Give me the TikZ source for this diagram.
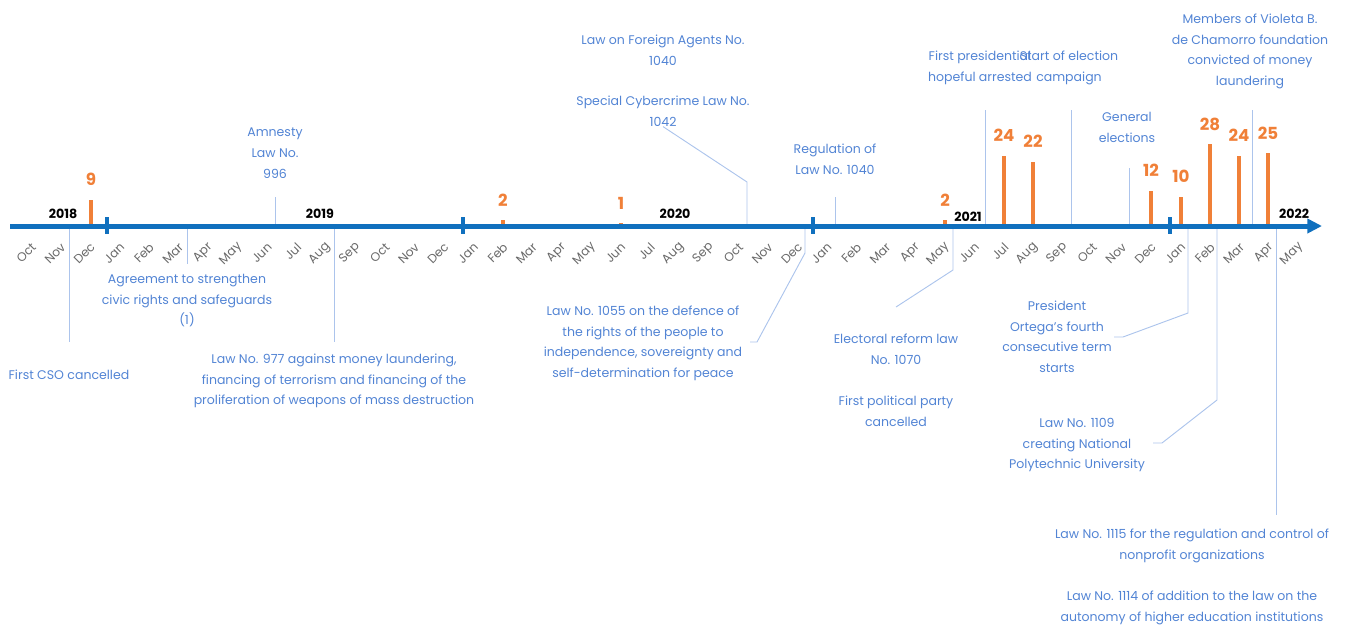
\documentclass[tikz,border=0pt]{standalone}
\usepackage{fontspec}
\setmainfont{Poppins}
\usepackage{tikz}
\usetikzlibrary{arrows.meta}

\definecolor{axisblue}{RGB}{16,112,190}
\definecolor{barorange}{RGB}{240,128,56}
\definecolor{evtblue}{RGB}{82,132,212}
\definecolor{leadblue}{RGB}{172,196,236}
\definecolor{mongray}{RGB}{105,105,105}

\newcommand{\evtfont}{\fontsize{9.4}{15.4}\selectfont}
\newcommand{\cntfont}{\fontsize{12.5}{14}\selectfont\bfseries}
\newcommand{\yrfont}{\fontsize{9.5}{11}\selectfont\bfseries}
\newcommand{\monfont}{\fontsize{9.2}{11}\selectfont}

\begin{document}
\begin{tikzpicture}[x=0.75pt, y=-0.75pt, >={Triangle[length=11pt,width=10.5pt]},
  evt/.style={font=\evtfont, text=evtblue, align=center, inner sep=0pt, anchor=north},
  lead/.style={draw=leadblue, line width=0.7pt},
  bar/.style={draw=barorange, line width=2.3pt},
  cnt/.style={font=\cntfont, text=barorange, inner sep=0pt, anchor=base},
  yr/.style={font=\yrfont, inner sep=0pt, anchor=base},
  mon/.style={font=\monfont, text=mongray, rotate=45, anchor=east, inner sep=0pt},
  yeartick/.style={draw=axisblue, line width=2.3pt},
  axis/.style={draw=axisblue, line width=3.75pt, ->}]

\useasboundingbox (0,0) rectangle (1349,626);

% Event texts
\node[evt] (cso) at (69,370) {First CSO cancelled};
\node[evt] (agree) at (187,274) {Agreement to strengthen\\civic rights and safeguards\\(1)};
\node[evt] (amnesty) at (275,128) {Amnesty\\Law No.\\996};
\node[evt] (law977) at (334,354) {Law No. 977 against money laundering,\\financing of terrorism and financing of the\\proliferation of weapons of mass destruction};
\node[evt] (foreign) at (663,35) {Law on Foreign Agents No.\\1040};
\node[evt] (cyber) at (663,96) {Special Cybercrime Law No.\\1042};
\node[evt] (reg) at (835,144) {Regulation of\\Law No. 1040};
\node[evt] (law1055) at (643,306) {Law No. 1055 on the defence of\\the rights of the people to\\independence, sovereignty and\\self-determination for peace};
\node[evt] (electoral) at (896,334) {Electoral reform law\\No. 1070};
\node[evt] (party) at (896,396) {First political party\\cancelled};
\node[evt] (hopeful) at (980,51) {First presidential\\hopeful arrested};
\node[evt] (campaign) at (1069,51) {Start of election\\campaign};
\node[evt] (general) at (1127,112) {General\\elections};
\node[evt] (violeta) at (1250,14) {Members of Violeta B.\\de Chamorro foundation\\convicted of money\\laundering};
\node[evt] (ortega) at (1057,301) {President\\Ortega's fourth\\consecutive term\\starts};
\node[evt] (law1109) at (1077,418) {Law No. 1109\\creating National\\Polytechnic University};
\node[evt] (law1115) at (1192,529) {Law No. 1115 for the regulation and control of\\nonprofit organizations};
\node[evt] (law1114) at (1192,591) {Law No. 1114 of addition to the law on the\\autonomy of higher education institutions};

% Leader points
\coordinate (csoA) at (69,228);      \coordinate (csoB) at (69,342);
\coordinate (agreeA) at (187,228);   \coordinate (agreeB) at (187,264);
\coordinate (amnestyA) at (275,224); \coordinate (amnestyB) at (275,197);
\coordinate (law977A) at (334,228);  \coordinate (law977B) at (334,342);
\coordinate (cyberA) at (747,224);   \coordinate (cyberB) at (747,182);
\coordinate (regA) at (835,224);     \coordinate (regB) at (835,197);
\coordinate (law1055A) at (805,228); \coordinate (law1055B) at (805,253);
\coordinate (law1055C) at (757,342); \coordinate (law1055D) at (750,342);
\coordinate (electA) at (953,228);   \coordinate (electB) at (953,270);
\coordinate (electC) at (896,307);
\coordinate (hopefulA) at (985,224); \coordinate (hopefulB) at (985,110);
\coordinate (campA) at (1071,224);   \coordinate (campB) at (1071,110);
\coordinate (genA) at (1129,224);    \coordinate (genB) at (1129,168);
\coordinate (violA) at (1252,224);   \coordinate (violB) at (1252,110);
\coordinate (ortA) at (1188,228);    \coordinate (ortB) at (1188,313);
\coordinate (ortC) at (1123,337);    \coordinate (ortD) at (1114,337);
\coordinate (l1109A) at (1217,228);  \coordinate (l1109B) at (1217,400);
\coordinate (l1109C) at (1162,443);  \coordinate (l1109D) at (1153,443);
\coordinate (l1115A) at (1276,228);  \coordinate (l1115B) at (1276,515);

% Leaders
\draw[lead] (csoA) -- (csoB);
\draw[lead] (agreeA) -- (agreeB);
\draw[lead] (amnestyA) -- (amnestyB);
\draw[lead] (law977A) -- (law977B);
\draw[lead] (cyber.south) -- (cyberB) -- (cyberA);
\draw[lead] (regA) -- (regB);
\draw[lead] (law1055A) -- (law1055B) -- (law1055C) -- (law1055D);
\draw[lead] (electA) -- (electB) -- (electC);
\draw[lead] (hopefulA) -- (hopefulB);
\draw[lead] (campA) -- (campB);
\draw[lead] (genA) -- (genB);
\draw[lead] (violA) -- (violB);
\draw[lead] (ortA) -- (ortB) -- (ortC) -- (ortD);
\draw[lead] (l1109A) -- (l1109B) -- (l1109C) -- (l1109D);
\draw[lead] (l1115A) -- (l1115B);

% Monthly counts
\foreach \x/\n [count=\k] in {91/9, 503/2, 621/1, 945/2, 1004/24, 1033/22,
    1151/12, 1181/10, 1210/28, 1239/24, 1268/25} {
  \coordinate (b\k) at (\x,226);
  \coordinate (t\k) at (\x,{226-2.92*\n});
  \draw[bar] (b\k) -- (t\k);
  \node[cnt] (n\k) at (\x,{226-2.92*\n-14}) {\n};
}

% Time axis
\coordinate (start) at (10,226);
\coordinate (end) at (1322,226);
\draw[axis] (start) -- (end);
\foreach \x [count=\k] in {107,463,813,1170} {
  \coordinate (ya\k) at (\x,217);
  \coordinate (yb\k) at (\x,234);
  \draw[yeartick] (ya\k) -- (yb\k);
}

% Years
\node[yr] (y2018) at (63,218) {2018};
\node[yr] (y2019) at (320,218) {2019};
\node[yr] (y2020) at (675,218) {2020};
\node[yr] (y2021) at (968,221) {2021};
\node[yr] (y2022) at (1294,218) {2022};

% Months
\foreach \m [count=\i from 0] in {Oct,Nov,Dec,
    Jan,Feb,Mar,Apr,May,Jun,Jul,Aug,Sep,Oct,Nov,Dec,
    Jan,Feb,Mar,Apr,May,Jun,Jul,Aug,Sep,Oct,Nov,Dec,
    Jan,Feb,Mar,Apr,May,Jun,Jul,Aug,Sep,Oct,Nov,Dec,
    Jan,Feb,Mar,Apr,May} {
  \node[mon] (m\i) at ({34+29.47*\i},245) {\m};
}

\end{tikzpicture}
\end{document}
